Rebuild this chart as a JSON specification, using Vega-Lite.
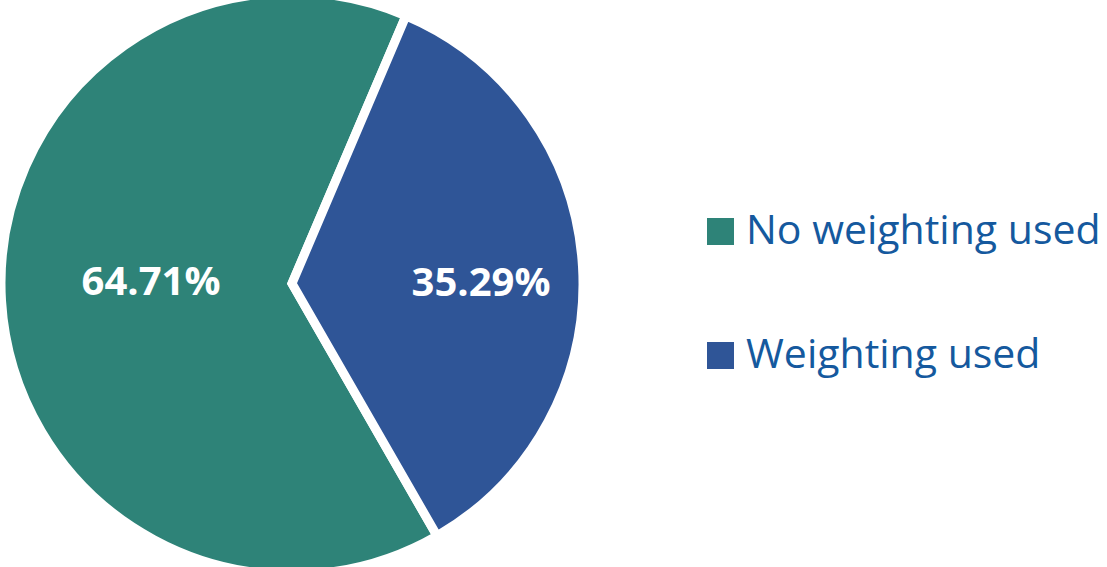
{
  "$schema": "https://vega.github.io/schema/vega-lite/v6.json",
  "width": 584,
  "height": 567,
  "autosize": {"type": "none"},
  "padding": {"left": 0, "top": 0, "right": 523, "bottom": 0},
  "background": "white",
  "config": {"view": {"stroke": null}},
  "data": {
    "values": [
      {"category": "No weighting used", "value": 64.71, "label": "64.71%"},
      {"category": "Weighting used", "value": 35.29, "label": "35.29%"}
    ]
  },
  "encoding": {
    "theta": {"field": "value", "type": "quantitative", "stack": true, "scale": {"range": [2.62, 8.903]}},
    "order": {"field": "category", "type": "ordinal", "sort": "ascending"},
    "color": {
      "field": "category",
      "type": "nominal",
      "scale": {"domain": ["No weighting used", "Weighting used"], "range": ["#2E8378", "#2F5597"]},
      "legend": {
        "title": null,
        "orient": "none",
        "legendX": 700,
        "legendY": 211,
        "direction": "vertical",
        "symbolType": "square",
        "symbolSize": 729,
        "symbolStrokeWidth": 0,
        "symbolOpacity": 1,
        "labelFont": "Open Sans",
        "labelFontSize": 41,
        "labelColor": "#15599E",
        "labelOffset": 5,
        "labelLimit": 500,
        "rowPadding": 82,
        "padding": 0
      }
    }
  },
  "layer": [
    {
      "mark": {"type": "arc", "outerRadius": 291, "stroke": "white", "strokeWidth": 9}
    },
    {
      "mark": {"type": "text", "radius": 165, "thetaOffset": 0.06, "dx": 24, "font": "Open Sans", "fontWeight": "bold", "fontSize": 40, "baseline": "middle", "align": "center"},
      "encoding": {
        "text": {"field": "label", "type": "nominal"},
        "fill": {"value": "white"}
      }
    }
  ]
}
